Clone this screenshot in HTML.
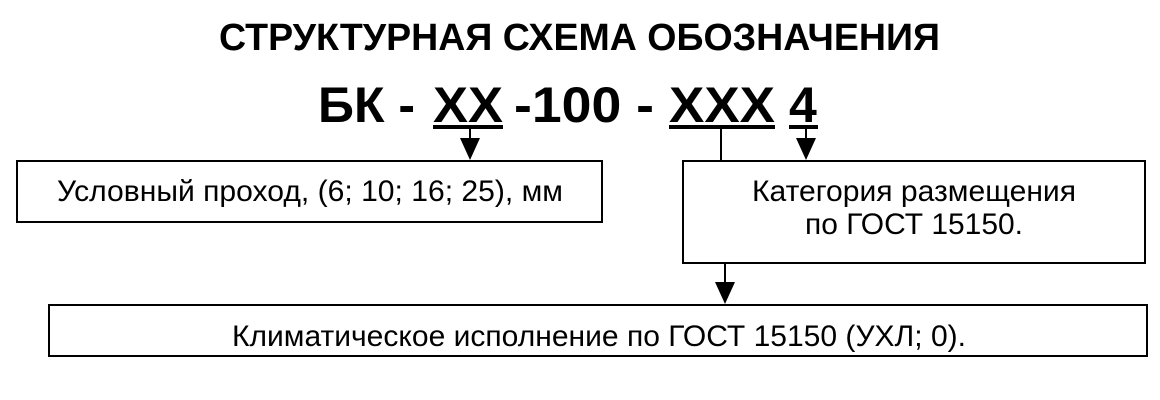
<!DOCTYPE html>
<html><head><meta charset="utf-8"><style>html,body{margin:0;padding:0;background:#fff}svg{display:block}</style></head>
<body>
<svg width="1160" height="400" viewBox="0 0 1160 400" xmlns="http://www.w3.org/2000/svg" font-family="Liberation Sans, Arial, sans-serif" fill="#000">
<text x="219" y="50" font-size="38" font-weight="bold" textLength="721" lengthAdjust="spacingAndGlyphs">СТРУКТУРНАЯ СХЕМА ОБОЗНАЧЕНИЯ</text>
<g font-size="50" font-weight="bold">
<text x="318" y="122">БК -</text>
<text x="433" y="122" textLength="70" lengthAdjust="spacingAndGlyphs">XX</text>
<text x="514" y="122" textLength="140" lengthAdjust="spacingAndGlyphs">-100 -</text>
<text x="669" y="122" textLength="106" lengthAdjust="spacingAndGlyphs">XXX</text>
<text x="789" y="122">4</text>
</g>
<g fill="#000">
<rect x="433" y="125" width="70" height="4"/>
<rect x="669" y="125" width="106" height="4"/>
<rect x="789" y="125" width="29" height="4"/>
</g>
<g stroke="#000" stroke-width="2" fill="none">
<line x1="470" y1="129" x2="470" y2="140"/>
<line x1="721" y1="129" x2="721" y2="161"/>
<line x1="806" y1="129" x2="806" y2="140"/>
<line x1="725" y1="263" x2="725" y2="284"/>
<rect x="17" y="161" width="585" height="61"/>
<rect x="683" y="161" width="462" height="102"/>
<rect x="49" y="305" width="1098" height="51"/>
</g>
<polygon points="460,138 480,138 470,160"/>
<polygon points="796,138 816,138 806,160"/>
<polygon points="715,282 735,282 725,304"/>
<g font-size="30">
<text x="57" y="201" textLength="506" lengthAdjust="spacingAndGlyphs">Условный проход, (6; 10; 16; 25), мм</text>
<text x="752" y="201" textLength="324" lengthAdjust="spacingAndGlyphs">Категория размещения</text>
<text x="805" y="234" textLength="218" lengthAdjust="spacingAndGlyphs">по ГОСТ 15150.</text>
<text x="232" y="346" textLength="734" lengthAdjust="spacingAndGlyphs">Климатическое исполнение по ГОСТ 15150 (УХЛ; 0).</text>
</g>
</svg>
</body></html>
